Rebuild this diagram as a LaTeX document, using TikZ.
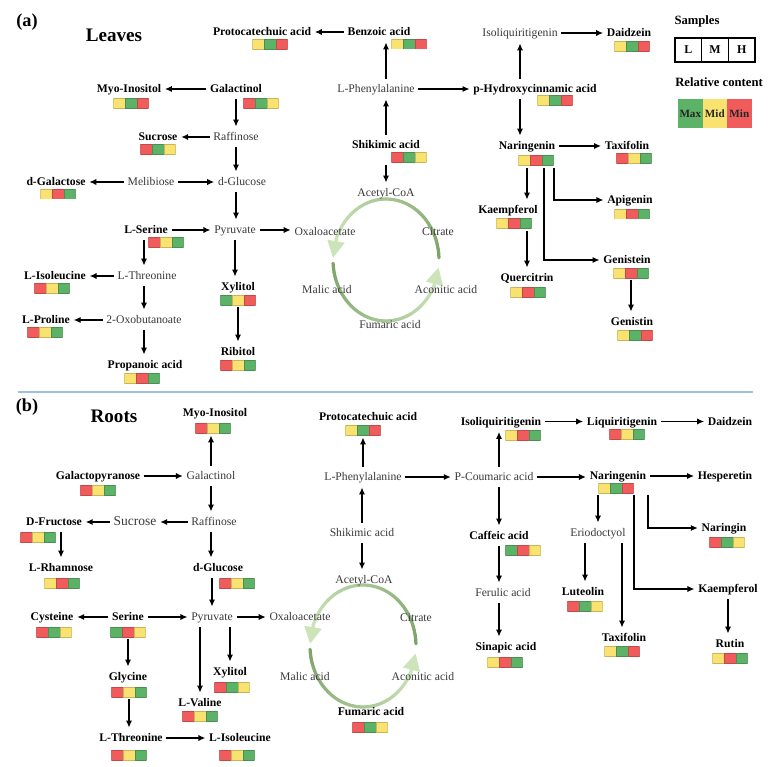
\documentclass[tikz,border=0pt]{standalone}
\usepackage{fontspec}
\setmainfont{Liberation Serif}
\usepackage{xcolor}
\usepackage{tikz}
\usetikzlibrary{arrows.meta,calc}

\definecolor{cG}{RGB}{92,178,102}
\definecolor{cY}{RGB}{250,226,112}
\definecolor{cR}{RGB}{240,92,92}
\definecolor{tcaD}{RGB}{126,164,104}
\definecolor{tcaL}{RGB}{204,228,186}
\definecolor{sepblue}{RGB}{160,192,222}
\newcommand\lbl{\fontsize{8.3}{10}\selectfont}

\begin{document}
\begin{tikzpicture}[x=0.025cm,y=-0.025cm,
    >={Latex[length=5pt,width=4.5pt]},
    every node/.style={inner sep=1pt,text height=1.6ex,text depth=.45ex},
    met/.style={font=\lbl\bfseries},
    mid/.style={font=\lbl,text=black!78},
    arr/.style={->,line width=1.2pt,shorten >=1.5pt,shorten <=1.5pt},
    tca/.style={line width=2.3pt,line cap=round},
    lmh/.style n args={3}{minimum width=0.8775cm,minimum height=0.25cm,inner sep=0pt,
      text height=0pt,text depth=0pt,
      path picture={
        \foreach \c [count=\i from 0] in {#1,#2,#3}
          \filldraw[fill=\c,draw=\c!80!black,line width=0.3pt]
            ([xshift=\i*0.2925cm]path picture bounding box.north west) rectangle ++(11.7,10);
      }},
    sbox/.style={draw,line width=1pt,minimum width=0.6675cm,minimum height=0.6cm,
      font=\fontsize{8.5}{10}\selectfont\bfseries},
    rcbox/.style={minimum width=0.6125cm,minimum height=0.725cm,inner sep=0pt,
      font=\fontsize{7.9}{9}\selectfont\bfseries,text=black!85}]
  \useasboundingbox (0,0) rectangle (783,767);

  % TCA cycles
  \foreach \cx/\cy in {386/260,363/646}
    \foreach \s/\e in {2/178,183/353} {
      \foreach \f in {0,0.025,...,0.875} {
        \pgfmathtruncatemacro\m{100*\f/0.9}
        \draw[tca,draw=tcaL!\m!tcaD]
          ({\cx+53*cos(\s+\f*(\e-\s))},{\cy-61*sin(\s+\f*(\e-\s))}) --
          ({\cx+53*cos(\s+(\f+0.025)*(\e-\s))},{\cy-61*sin(\s+(\f+0.025)*(\e-\s))});
      }
      \draw[tca,draw=tcaL,-{Triangle[length=12pt,width=12pt]}]
        ({\cx+53*cos(\s+0.89*(\e-\s))},{\cy-61*sin(\s+0.89*(\e-\s))}) --
        ({\cx+53*cos(\e)},{\cy-61*sin(\e)});
    }

  % (a) Leaves
  \node[font=\fontsize{13}{15}\selectfont\bfseries] (pa) at (27,23) {(a)};
  \node[font=\fontsize{13.6}{16}\selectfont\bfseries] (leaves) at (114,38) {Leaves};

  \node[met] (pca) at (262,32) {Protocatechuic acid};
  \node[lmh={cY}{cG}{cR}] (pca-b) at (270,44.5) {};
  \node[met] (ben) at (379,32) {Benzoic acid};
  \node[lmh={cY}{cG}{cR}] (ben-b) at (409,44) {};
  \node[met] (myo) at (129,89) {Myo-Inositol};
  \node[lmh={cY}{cG}{cR}] (myo-b) at (131,103.5) {};
  \node[met] (gal) at (236,89) {Galactinol};
  \node[lmh={cR}{cG}{cY}] (gal-b) at (261,103.5) {};
  \node[mid] (raf) at (236,137) {Raffinose};
  \node[met] (suc) at (158,137) {Sucrose};
  \node[lmh={cR}{cG}{cY}] (suc-b) at (158,149.5) {};
  \node[mid] (glc) at (242,182) {d-Glucose};
  \node[mid] (mel) at (151,182) {Melibiose};
  \node[met] (gla) at (56,182) {d-Galactose};
  \node[lmh={cY}{cR}{cG}] (gla-b) at (58,194) {};
  \node[mid] (pyr) at (235,230) {Pyruvate};
  \node[met] (ser) at (146,230) {L-Serine};
  \node[lmh={cR}{cY}{cG}] (ser-b) at (166,242.5) {};
  \node[mid] (oxa) at (325,232) {Oxaloacetate};
  \node[mid] (thr) at (147,276) {L-Threonine};
  \node[met] (ile) at (55,276) {L-Isoleucine};
  \node[lmh={cR}{cY}{cG}] (ile-b) at (52,288.5) {};
  \node[mid] (oxb) at (144,320) {2-Oxobutanoate};
  \node[met] (pro) at (46,320) {L-Proline};
  \node[lmh={cR}{cY}{cG}] (pro-b) at (45,332.5) {};
  \node[met] (pac) at (145,365) {Propanoic acid};
  \node[lmh={cY}{cR}{cG}] (pac-b) at (142,378.5) {};
  \node[met] (xyl) at (238,287) {Xylitol};
  \node[lmh={cG}{cY}{cR}] (xyl-b) at (238,300) {};
  \node[met] (rib) at (238,352) {Ribitol};
  \node[lmh={cR}{cY}{cG}] (rib-b) at (238,365) {};
  \node[mid] (phe) at (376,89) {L-Phenylalanine};
  \node[met] (hca) at (535,89) {p-Hydroxycinnamic acid};
  \node[lmh={cY}{cG}{cR}] (hca-b) at (555,100.5) {};
  \node[met] (shi) at (386,145) {Shikimic acid};
  \node[lmh={cR}{cG}{cY}] (shi-b) at (409,157.5) {};
  \node[mid] (aco) at (386,193) {Acetyl-CoA};
  \node[mid] (cit) at (438,232) {Citrate};
  \node[mid] (mal) at (327,290) {Malic acid};
  \node[mid] (acn) at (446,290) {Aconitic acid};
  \node[mid] (fum) at (390,325) {Fumaric acid};
  \node[mid] (iso) at (520,33) {Isoliquiritigenin};
  \node[met] (dai) at (629,33) {Daidzein};
  \node[lmh={cY}{cG}{cR}] (dai-b) at (632,46.5) {};
  \node[met] (nar) at (527,146) {Naringenin};
  \node[lmh={cY}{cR}{cG}] (nar-b) at (536,160.5) {};
  \node[met] (tax) at (627,146) {Taxifolin};
  \node[lmh={cR}{cY}{cG}] (tax-b) at (634,158.5) {};
  \node[met] (kae) at (508,210) {Kaempferol};
  \node[lmh={cY}{cR}{cG}] (kae-b) at (514,223.5) {};
  \node[met] (que) at (527,278) {Quercitrin};
  \node[lmh={cY}{cR}{cG}] (que-b) at (528,292.5) {};
  \node[met] (api) at (630,200) {Apigenin};
  \node[lmh={cY}{cR}{cG}] (api-b) at (632,214) {};
  \node[met] (gen) at (627,260) {Genistein};
  \node[lmh={cY}{cR}{cG}] (gen-b) at (631,273) {};
  \node[met] (gtn) at (632,322) {Genistin};
  \node[lmh={cY}{cG}{cR}] (gtn-b) at (635,335) {};

  \draw[arr] (ben) -- (pca);
  \draw[arr] (phe.north -| shi) -- (shi |- ben.south);
  \draw[arr] (phe) -- (hca);
  \draw[arr] (shi) -- (shi |- phe.south);
  \draw[arr] (shi-b.south -| shi) -- (aco);
  \draw[arr] (gal) -- (myo);
  \draw[arr] (gal) -- (raf);
  \draw[arr] (raf) -- (suc);
  \draw[arr] (raf) -- (raf |- glc.north);
  \draw[arr] (mel) -- (glc);
  \draw[arr] (mel) -- (gla);
  \draw[arr] (raf |- glc.south) -- (raf |- pyr.north);
  \draw[arr] (ser) -- (pyr);
  \draw[arr] (pyr) -- (pyr -| oxa.west);
  \draw[arr] (ser.south -| oxb) -- (oxb |- thr.north);
  \draw[arr] (thr) -- (ile);
  \draw[arr] (oxb |- thr.south) -- (oxb);
  \draw[arr] (oxb) -- (pro);
  \draw[arr] (oxb) -- (oxb |- pac.north);
  \draw[arr] (pyr) -- (pyr |- xyl.north);
  \draw[arr] (xyl-b) -- (rib);
  \draw[arr] (iso |- hca.north) -- (iso);
  \draw[arr] (iso) -- (dai);
  \draw[arr] (iso |- hca.south) -- (iso |- nar.north);
  \draw[arr] (nar) -- (tax);
  \draw[arr] (nar-b.south -| que) -- (que |- kae.north);
  \draw[arr] (kae-b.south -| que) -- (que);
  \draw[arr] (nar-b.south east) |- (api);
  \draw[arr] ($(nar-b.south)+(8,0)$) |- (gen);
  \draw[arr] (gen-b) -- (gen-b |- gtn.north);

  % legend
  \node[font=\fontsize{9}{11}\selectfont\bfseries] (samp) at (697,21) {Samples};
  \foreach \s [count=\i from 0] in {L,M,H}
    \node[sbox] (s\s) at ({688.3+26.7*\i},50) {\s};
  \node[font=\fontsize{9}{11}\selectfont\bfseries] (rel) at (719,83) {Relative content};
  \foreach \s/\c [count=\i from 0] in {Max/cG,Mid/cY,Min/cR}
    \node[rcbox,fill=\c] (r\s) at ({690.3+24.5*\i},113.5) {\s};

  % separator
  \draw[sepblue,line width=1.2pt] (18,392) -- (753,392);

  % (b) Roots
  \node[font=\fontsize{13}{15}\selectfont\bfseries] (pb) at (27,408) {(b)};
  \node[font=\fontsize{13.6}{16}\selectfont\bfseries] (roots) at (114,419) {Roots};

  \node[met] (myo2) at (215,413) {Myo-Inositol};
  \node[lmh={cR}{cY}{cG}] (myo2-b) at (213,428) {};
  \node[mid] (gal2) at (211,476) {Galactinol};
  \node[met] (gpy) at (98,476) {Galactopyranose};
  \node[lmh={cR}{cY}{cG}] (gpy-b) at (98,490.5) {};
  \node[mid] (raf2) at (214,522) {Raffinose};
  \node[mid,font=\fontsize{9.6}{11}\selectfont] (suc2) at (135,522) {Sucrose};
  \node[met] (fru) at (54,522) {D-Fructose};
  \node[lmh={cR}{cY}{cG}] (fru-b) at (38,537.5) {};
  \node[met] (rha) at (61,568) {L-Rhamnose};
  \node[lmh={cY}{cR}{cG}] (rha-b) at (62,583) {};
  \node[met] (glc2) at (218,568) {d-Glucose};
  \node[lmh={cR}{cY}{cG}] (glc2-b) at (237,583.5) {};
  \node[mid] (pyr2) at (212,617) {Pyruvate};
  \node[met] (ser2) at (128,617) {Serine};
  \node[lmh={cG}{cR}{cY}] (ser2-b) at (128,632) {};
  \node[met] (cys) at (52,617) {Cysteine};
  \node[lmh={cR}{cG}{cY}] (cys-b) at (54,632) {};
  \node[mid] (oxa2) at (300,617) {Oxaloacetate};
  \node[met] (gly) at (128,677) {Glycine};
  \node[lmh={cR}{cY}{cG}] (gly-b) at (129,692) {};
  \node[met] (thr2) at (131,738) {L-Threonine};
  \node[lmh={cR}{cY}{cG}] (thr2-b) at (129,755) {};
  \node[met] (ile2) at (240,738) {L-Isoleucine};
  \node[lmh={cR}{cY}{cG}] (ile2-b) at (237,755) {};
  \node[met] (val) at (200,703) {L-Valine};
  \node[lmh={cR}{cY}{cG}] (val-b) at (200,716) {};
  \node[met] (xyl2) at (230,672) {Xylitol};
  \node[lmh={cR}{cG}{cY}] (xyl2-b) at (232,687.5) {};
  \node[met] (pca2) at (368,417) {Protocatechuic acid};
  \node[lmh={cY}{cG}{cR}] (pca2-b) at (363,430) {};
  \node[mid] (phe2) at (363,477) {L-Phenylalanine};
  \node[mid] (pco) at (494,477) {P-Coumaric acid};
  \node[mid] (shi2) at (362,533) {Shikimic acid};
  \node[mid] (aco2) at (364,580) {Acetyl-CoA};
  \node[mid] (cit2) at (416,618) {Citrate};
  \node[mid] (mal2) at (305,677) {Malic acid};
  \node[mid] (acn2) at (423,677) {Aconitic acid};
  \node[met] (fum2) at (371,712) {Fumaric acid};
  \node[lmh={cR}{cG}{cY}] (fum2-b) at (370,727.5) {};
  \node[met] (iso2) at (501,421.5) {Isoliquiritigenin};
  \node[lmh={cY}{cR}{cG}] (iso2-b) at (523,435.5) {};
  \node[met] (caf) at (499,536) {Caffeic acid};
  \node[lmh={cG}{cR}{cY}] (caf-b) at (523,550) {};
  \node[mid] (fer) at (503,593) {Ferulic acid};
  \node[met] (sin) at (506,647) {Sinapic acid};
  \node[lmh={cY}{cR}{cG}] (sin-b) at (505,662.5) {};
  \node[met] (liq) at (622,421.5) {Liquiritigenin};
  \node[lmh={cR}{cY}{cG}] (liq-b) at (627,434.5) {};
  \node[met] (dai2) at (730,421.5) {Daidzein};
  \node[met] (nar2) at (618,476) {Naringenin};
  \node[lmh={cY}{cG}{cR}] (nar2-b) at (616,488) {};
  \node[met] (hes) at (725,476) {Hesperetin};
  \node[mid] (eri) at (598,533) {Eriodoctyol};
  \node[met] (nrg) at (724,528) {Naringin};
  \node[lmh={cR}{cG}{cY}] (nrg-b) at (727,542) {};
  \node[met] (kae2) at (728,589) {Kaempferol};
  \node[met] (rut) at (730,644) {Rutin};
  \node[lmh={cY}{cR}{cG}] (rut-b) at (730,658) {};
  \node[met] (lut) at (583,592) {Luteolin};
  \node[lmh={cR}{cG}{cY}] (lut-b) at (585,606) {};
  \node[met] (tax2) at (624,638) {Taxifolin};
  \node[lmh={cY}{cG}{cR}] (tax2-b) at (622,651.5) {};

  \draw[arr] (gal2) -- (gal2 |- myo2-b.south);
  \draw[arr] (gpy) -- (gpy -| gal2.west);
  \draw[arr] (gal2) -- (gal2 |- raf2.north);
  \draw[arr] (raf2) -- (suc2);
  \draw[arr] (suc2) -- (fru);
  \draw[arr] (fru.south -| rha) -- (rha);
  \draw[arr] (gal2 |- raf2.south) -- (gal2 |- glc2.north);
  \draw[arr] (glc2.south -| pyr2) -- (pyr2);
  \draw[arr] (ser2) -- (pyr2);
  \draw[arr] (ser2) -- (cys);
  \draw[arr] (pyr2) -- (oxa2);
  \draw[arr] (ser2-b) -- (gly);
  \draw[arr] (gly-b) -- (gly-b |- thr2.north);
  \draw[arr] (thr2) -- (ile2);
  \draw[arr] (pyr2.south -| val) -- (val);
  \draw[arr] (pyr2.south -| xyl2) -- (xyl2);
  \draw[arr] (phe2) -- (phe2 |- pca2-b.south);
  \draw[arr] (phe2) -- (pco);
  \draw[arr] (shi2) -- (shi2 |- phe2.south);
  \draw[arr] (shi2) -- (shi2 |- aco2.north);
  \draw[arr] (pco.north -| caf) -- (caf |- iso2.south);
  \draw[arr] (iso2) -- (liq);
  \draw[arr] (liq) -- (dai2);
  \draw[arr] (pco.south -| caf) -- (caf);
  \draw[arr] (caf) -- (caf |- fer.north);
  \draw[arr] (caf |- fer.south) -- (caf |- sin.north);
  \draw[arr] (pco) -- (pco -| nar2.west);
  \draw[arr] (nar2) -- (hes);
  \draw[arr] (nar2-b.south -| eri) -- (eri);
  \draw[arr] (nar2-b.south -| nar2.east) |- (nrg);
  \draw[arr] (nar2-b.south east) |- (kae2);
  \draw[arr] (kae2) -- (kae2 |- rut.north);
  \draw[arr] (lut-b |- eri.south) -- (lut-b |- lut.north);
  \draw[arr] (tax2-b |- eri.south) -- (tax2-b |- tax2.north);
\end{tikzpicture}
\end{document}
